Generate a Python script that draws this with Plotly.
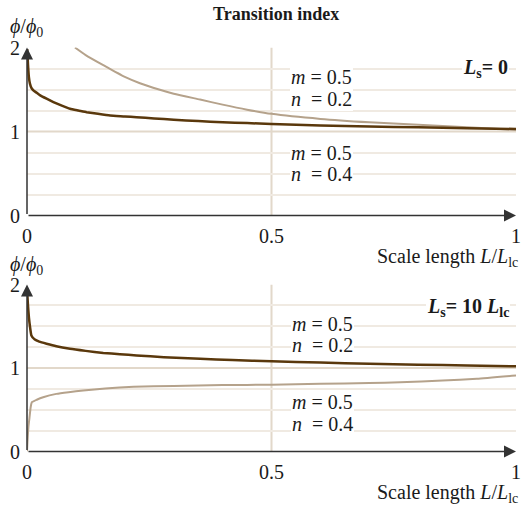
import plotly.graph_objects as go

# ---------------- data ----------------
top_dark_x = [0.0005, 0.002, 0.004, 0.006, 0.009, 0.013, 0.02, 0.027, 0.04, 0.054, 0.07, 0.088,
              0.105, 0.122, 0.145, 0.17, 0.2, 0.224, 0.26, 0.3, 0.35, 0.4, 0.45, 0.5, 0.6, 0.7,
              0.8, 0.9, 1.0]
top_dark_y = [1.98, 1.8, 1.64, 1.57, 1.52, 1.49, 1.46, 1.43, 1.39, 1.35, 1.31, 1.27,
              1.25, 1.23, 1.21, 1.19, 1.18, 1.17, 1.155, 1.14, 1.125, 1.11, 1.10, 1.09, 1.07, 1.06,
              1.05, 1.04, 1.03]

top_light_x = [0.098, 0.12, 0.156, 0.2, 0.231, 0.27, 0.3, 0.354, 0.4, 0.45, 0.5, 0.6, 0.7, 0.8, 0.9, 1.0]
top_light_y = [2.0, 1.91, 1.79, 1.65, 1.575, 1.50, 1.45, 1.38, 1.32, 1.26, 1.21, 1.15, 1.11, 1.08, 1.05, 1.02]

bot_dark_x = [0.0005, 0.002, 0.004, 0.006, 0.009, 0.016, 0.025, 0.04, 0.06, 0.088, 0.12, 0.156,
              0.19, 0.224, 0.28, 0.354, 0.42, 0.5, 0.6, 0.7, 0.8, 0.9, 1.0]
bot_dark_y = [1.9, 1.75, 1.6, 1.5, 1.39, 1.34, 1.315, 1.29, 1.26, 1.23, 1.205, 1.18,
              1.165, 1.15, 1.13, 1.11, 1.095, 1.08, 1.065, 1.05, 1.04, 1.03, 1.02]

bot_light_x = [0.0, 0.001, 0.002, 0.003, 0.005, 0.0075, 0.01, 0.02, 0.033, 0.06, 0.085, 0.115,
               0.16, 0.218, 0.3, 0.4, 0.5, 0.6, 0.7, 0.763, 0.85, 0.92, 1.0]
bot_light_y = [0.0, 0.12, 0.22, 0.3, 0.4, 0.53, 0.59, 0.62, 0.65, 0.69, 0.71, 0.73,
               0.755, 0.775, 0.785, 0.795, 0.80, 0.81, 0.82, 0.83, 0.85, 0.87, 0.91]

x_tick_vals = [0, 0.5, 1]
x_tick_text = ["0", "0.5", "1"]
y_tick_vals = [0, 1, 2]
y_tick_text = ["0", "1", "2"]
minor_grid_vals = [0.25, 0.5, 0.75, 1.25, 1.5, 1.75]

# ---------------- style ----------------
DARK = "#5a380c"
LIGHT = "#b5a28b"
GRID = "#f0eae2"
REF = "#e2d8ca"
AXIS = "#333333"
FONT = "Liberation Serif"
FS = 20

W, H = 529, 506
ML, MR = 27, 13


def py(p):
    return 1 - p / H


def px(p):
    return (p - ML) / (W - ML - MR)


fig = go.Figure()
fig.add_trace(go.Scatter(x=top_light_x, y=top_light_y, mode="lines",
                         line=dict(color=LIGHT, width=2, shape="spline", smoothing=0.6),
                         xaxis="x", yaxis="y", showlegend=False))
fig.add_trace(go.Scatter(x=top_dark_x, y=top_dark_y, mode="lines",
                         line=dict(color=DARK, width=2.5, shape="spline", smoothing=0.4),
                         xaxis="x", yaxis="y", showlegend=False))
fig.add_trace(go.Scatter(x=bot_light_x, y=bot_light_y, mode="lines",
                         line=dict(color=LIGHT, width=2, shape="spline", smoothing=0.4),
                         xaxis="x2", yaxis="y2", showlegend=False))
fig.add_trace(go.Scatter(x=bot_dark_x, y=bot_dark_y, mode="lines",
                         line=dict(color=DARK, width=2.5, shape="spline", smoothing=0.4),
                         xaxis="x2", yaxis="y2", showlegend=False))

xax = dict(range=[0, 1], showgrid=False, zeroline=False, showline=False,
           tickvals=x_tick_vals, ticktext=x_tick_text, ticks="",
           ticklabelstandoff=6, automargin=False,
           tickfont=dict(family=FONT, size=FS, color="#1a1a1a"), fixedrange=True)
yax = dict(range=[0, 2], showgrid=False, zeroline=False, showline=False,
           tickvals=y_tick_vals, ticktext=y_tick_text, ticks="",
           ticklabelstandoff=6, automargin=False,
           minor=dict(tickvals=minor_grid_vals, showgrid=True, gridcolor=GRID, gridwidth=1.5, ticks=""),
           tickfont=dict(family=FONT, size=FS, color="#1a1a1a"), fixedrange=True)

fig.update_layout(
    width=W, height=H,
    margin=dict(l=ML, r=MR, t=0, b=0, pad=0, autoexpand=False),
    plot_bgcolor="white", paper_bgcolor="white",
    xaxis=dict(xax, domain=[0, 1], anchor="y"),
    yaxis=dict(yax, domain=[py(215.5), py(47.5)], anchor="x"),
    xaxis2=dict(xax, domain=[0, 1], anchor="y2"),
    yaxis2=dict(yax, domain=[py(451.5), py(284.5)], anchor="x2"),
)

shapes = []
for xr, yr in (("x", "y"), ("x2", "y2")):
    shapes.append(dict(type="line", xref=xr, yref=yr, x0=0, x1=1, y0=1, y1=1,
                       line=dict(color=REF, width=2), layer="below"))
    shapes.append(dict(type="line", xref=xr, yref=yr, x0=0.5, x1=0.5, y0=0, y1=2,
                       line=dict(color=REF, width=2), layer="below"))
fig.update_layout(shapes=shapes)

ann = []
# axis arrows
for xr, yr in (("x", "y"), ("x2", "y2")):
    ann.append(dict(x=1, y=0, ax=0, ay=0, xref=xr, yref=yr, axref=xr, ayref=yr, text="",
                    showarrow=True, arrowhead=2, arrowsize=1.6, arrowwidth=1.5, arrowcolor=AXIS))
    ann.append(dict(x=0, y=2, ax=0, ay=0, xref=xr, yref=yr, axref=xr, ayref=yr, text="",
                    showarrow=True, arrowhead=2, arrowsize=1.6, arrowwidth=1.5, arrowcolor=AXIS))


def label(text, x, y, xr, yr, xanchor="left"):
    return dict(text=text, x=x, y=y, xref=xr, yref=yr, xanchor=xanchor, yanchor="middle",
                showarrow=False, bgcolor="white", borderpad=1, borderwidth=0,
                font=dict(family=FONT, size=FS, color="#1a1a1a"))


NB = "\u00a0"
# top panel labels
ann.append(label("<i>m</i> = 0.5", 0.537, 1.65, "x", "y"))
ann.append(label("<i>n</i>" + NB + " = 0.2", 0.537, 1.39, "x", "y"))
ann.append(label("<i>m</i> = 0.5", 0.537, 0.75, "x", "y"))
ann.append(label("<i>n</i>" + NB + " = 0.4", 0.537, 0.49, "x", "y"))
ann.append(label("<b><i>L</i><sub>s</sub>= 0</b>", 0.985, 1.75, "x", "y", xanchor="right"))
# bottom panel labels
ann.append(label("<i>m</i> = 0.5", 0.54, 1.53, "x2", "y2"))
ann.append(label("<i>n</i>" + NB + " = 0.2", 0.54, 1.27, "x2", "y2"))
ann.append(label("<i>m</i> = 0.5", 0.54, 0.59, "x2", "y2"))
ann.append(label("<i>n</i>" + NB + " = 0.4", 0.54, 0.33, "x2", "y2"))
ann.append(label("<b><i>L</i><sub>s</sub>= 10 <i>L</i><sub>lc</sub></b>", 0.988, 1.73, "x2", "y2",
                 xanchor="right"))

# titles
ann.append(dict(text="<b>Transition index</b>", x=px(276), y=py(14), xref="paper", yref="paper",
                xanchor="center", yanchor="middle", showarrow=False,
                font=dict(family=FONT, size=18, color="#1a1a1a")))
for yy in (27, 265):
    ann.append(dict(text="<i>ϕ</i>/<i>ϕ</i><sub>0</sub>", x=px(8), y=py(yy), xref="paper", yref="paper",
                    xanchor="left", yanchor="middle", showarrow=False,
                    font=dict(family=FONT, size=FS, color="#1a1a1a")))
for yy in (257, 493):
    ann.append(dict(text="Scale length <i>L</i>/<i>L</i><sub>lc</sub>", x=px(520), y=py(yy),
                    xref="paper", yref="paper", xanchor="right", yanchor="middle", showarrow=False,
                    font=dict(family=FONT, size=FS, color="#1a1a1a")))

fig.update_layout(annotations=ann)
fig.write_html("out.html")
